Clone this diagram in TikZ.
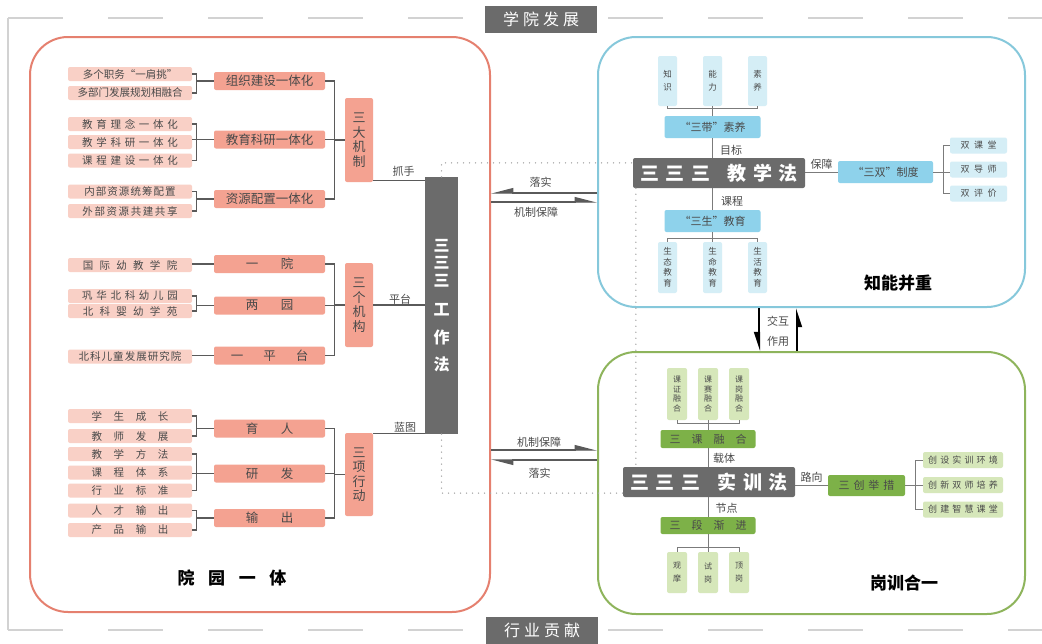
\documentclass[tikz,border=0pt]{standalone}
\usepackage{fontspec}
\setmainfont{Noto Sans CJK SC}
\usetikzlibrary{arrows.meta}
\definecolor{redline}{HTML}{E5806F}
\definecolor{redmid}{HTML}{F4A291}
\definecolor{redleaf}{HTML}{F9D0C6}
\definecolor{blueline}{HTML}{86C8DB}
\definecolor{bluemid}{HTML}{8ED2EB}
\definecolor{blueleaf}{HTML}{D5EEF6}
\definecolor{greenline}{HTML}{8EB45C}
\definecolor{greenmid}{HTML}{7DB148}
\definecolor{greenleaf}{HTML}{D6E7BA}
\definecolor{darkbox}{HTML}{6B6B6B}
\definecolor{wiregray}{HTML}{5A5A5A}
\definecolor{ink}{HTML}{4A4A4A}
\definecolor{framegray}{HTML}{D2D2D2}
\newcommand{\fsz}[1]{\fontsize{#1}{#1}\selectfont}
\newcommand{\spc}[2]{\def\spcgap{\hspace{#1em}}\spcloop#2\relax}
\def\spcloop#1#2{#1\ifx\relax#2\else\spcgap\expandafter\spcloop\expandafter#2\fi}

\begin{document}
\begin{tikzpicture}[x=1pt,y=-1pt,
    panel/.style={draw,line width=2pt,rounded corners=38pt,fill=white,inner sep=0pt},
    tag/.style={fill=darkbox,text=white,minimum width=112pt,minimum height=27pt,inner sep=0pt,font=\fsz{16}},
    rleaf/.style={fill=redleaf,rounded corners=2pt,minimum width=124pt,minimum height=14pt,inner sep=0pt,text=ink,font=\fsz{10.5}},
    rmid/.style={fill=redmid,rounded corners=2pt,minimum width=111pt,minimum height=18pt,inner sep=0pt,text=ink,font=\fsz{12.5}},
    rkey/.style={fill=redmid,rounded corners=2pt,minimum width=28pt,inner sep=0pt,align=center,text=ink,font=\fontsize{13}{14.5}\selectfont},
    bar/.style={fill=darkbox,minimum width=33pt,minimum height=257pt,inner sep=0pt,align=center,text=white,font=\fontsize{16}{17.5}\selectfont\bfseries},
    method/.style={fill=darkbox,rounded corners=2pt,minimum width=172pt,minimum height=30pt,inner sep=0pt,text=white,font=\fsz{19}\bfseries},
    bleaf/.style={fill=blueleaf,rounded corners=2pt,inner sep=0pt,align=center,text=ink},
    bmid/.style={fill=bluemid,rounded corners=2pt,minimum width=96pt,minimum height=22pt,inner sep=0pt,text=ink,font=\fsz{11}},
    gleaf/.style={fill=greenleaf,rounded corners=2pt,inner sep=0pt,align=center,text=ink},
    gmid/.style={fill=greenmid,rounded corners=2pt,minimum width=95pt,minimum height=18pt,inner sep=0pt,text=ink,font=\fsz{11}},
    wire/.style={draw=wiregray,line width=1.3pt},
    twig/.style={draw=wiregray!80,line width=0.9pt},
    lab/.style={inner sep=0pt,text=ink,font=\fsz{11}},
    title/.style={inner sep=0pt,text=black,font=\fsz{17}\bfseries},
    dotline/.style={draw=gray!70,line width=1.5pt,line cap=round,dash pattern=on 0pt off 6pt},
    harp/.style={draw=wiregray,line width=1.2pt,-{Triangle[harpoon,length=20pt,width=10pt]}},
    harpsw/.style={draw=wiregray,line width=1.2pt,-{Triangle[harpoon,swap,length=20pt,width=10pt]}},
    link/.style={draw=black,line width=2pt,-{Triangle[harpoon,swap,length=16pt,width=10pt]}}]
\useasboundingbox (0,0) rectangle (1042,643);

\draw[framegray,line width=2.5pt] (8,18) -- (8,630);
\draw[framegray,line width=2.5pt,dash pattern=on 55pt off 45pt] (8,18) -- (1042,18);
\draw[framegray,line width=2.5pt,dash pattern=on 55pt off 45pt] (8,630) -- (1042,630);

\node[panel,draw=redline,minimum width=460pt,minimum height=575pt] (pa) at (260,324.5) {};
\node[panel,draw=blueline,minimum width=427pt,minimum height=270pt] (pb) at (811.5,172) {};
\node[panel,draw=greenline,minimum width=427pt,minimum height=262pt] (pc) at (811.5,483) {};

\node[tag] (top) at (541,19) {\spc{0.25}{学院发展}};
\node[tag] (bot) at (542,630) {\spc{0.25}{行业贡献}};

\node[rleaf] (a1) at (130,74) {多个职务“一肩挑”};
\node[rleaf] (a2) at (130,93) {多部门发展规划相融合};
\node[rleaf] (a3) at (130,124) {\spc{0.35}{教育理念一体化}};
\node[rleaf] (a4) at (130,142) {\spc{0.35}{教学科研一体化}};
\node[rleaf] (a5) at (130,160.5) {\spc{0.35}{课程建设一体化}};
\node[rleaf] (a6) at (130,191.5) {\spc{0.1}{内部资源统筹配置}};
\node[rleaf] (a7) at (130,211) {\spc{0.15}{外部资源共建共享}};
\node[rleaf] (a8) at (130,265) {\spc{0.6}{国际幼教学院}};
\node[rleaf] (a9) at (130,296) {\spc{0.35}{巩华北科幼儿园}};
\node[rleaf] (a10) at (130,311) {\spc{0.6}{北科婴幼学苑}};
\node[rleaf] (a11) at (130,356.5) {\spc{0.1}{北科儿童发展研究院}};
\node[rleaf] (a12) at (130,416) {\spc{1.1}{学生成长}};
\node[rleaf] (a13) at (130,436) {\spc{1.1}{教师发展}};
\node[rleaf] (a14) at (130,454) {\spc{1.1}{教学方法}};
\node[rleaf] (a15) at (130,472.5) {\spc{1.1}{课程体系}};
\node[rleaf] (a16) at (130,490.5) {\spc{1.1}{行业标准}};
\node[rleaf] (a17) at (130,510.5) {\spc{1.1}{人才输出}};
\node[rleaf] (a18) at (130,530) {\spc{1.1}{产品输出}};

\node[rmid] (m1) at (269.5,81) {组织建设一体化};
\node[rmid] (m2) at (269.5,139.5) {教育科研一体化};
\node[rmid] (m3) at (269.5,199) {资源配置一体化};
\node[rmid] (m4) at (269.5,264) {\spc{1.8}{一院}};
\node[rmid] (m5) at (269.5,305.5) {\spc{1.8}{两园}};
\node[rmid] (m6) at (269.5,355.5) {\spc{1.6}{一平台}};
\node[rmid] (m7) at (269.5,428.5) {\spc{1.8}{育人}};
\node[rmid] (m8) at (269.5,473.5) {\spc{1.8}{研发}};
\node[rmid] (m9) at (269.5,518) {\spc{1.8}{输出}};

\node[rkey,minimum height=84pt] (k1) at (359,140) {三\\大\\机\\制};
\node[rkey,minimum height=84pt] (k2) at (359,305) {三\\个\\机\\构};
\node[rkey,minimum height=83pt] (k3) at (359,474.5) {三\\项\\行\\动};

\node[bar] (bar) at (441.5,305.5) {三\\三\\三\\[12pt]工\\[10pt]作\\[10pt]法};

\draw[wire] (m1.west) -- ++(-17,0) |- (a1.east);
\draw[wire] (m1.west) -- ++(-17,0) |- (a2.east);
\draw[wire] (m2.west) -- ++(-17,0) |- (a3.east);
\draw[wire] (m2.west) -- ++(-17,0) |- (a5.east);
\draw[wire] (m2.west) -- (m2.west -| a4.east);
\draw[wire] (m3.west) -- ++(-17,0) |- (a6.east);
\draw[wire] (m3.west) -- ++(-17,0) |- (a7.east);
\draw[wire] (m4.west) -- (m4.west -| a8.east);
\draw[wire] (m5.west) -- ++(-17,0) |- (a9.east);
\draw[wire] (m5.west) -- ++(-17,0) |- (a10.east);
\draw[wire] (m6.west) -- (m6.west -| a11.east);
\draw[wire] (m7.west) -- ++(-17,0) |- (a12.east);
\draw[wire] (m7.west) -- ++(-17,0) |- (a13.east);
\draw[wire] (m8.west) -- ++(-17,0) |- (a14.east);
\draw[wire] (m8.west) -- ++(-17,0) |- (a16.east);
\draw[wire] (m8.west) -- (m8.west -| a15.east);
\draw[wire] (m9.west) -- ++(-17,0) |- (a17.east);
\draw[wire] (m9.west) -- ++(-17,0) |- (a18.east);

\draw[wire] (k1.west) -- ++(-10,0) |- (m1.east);
\draw[wire] (k1.west) -- ++(-10,0) |- (m2.east);
\draw[wire] (k1.west) -- ++(-10,0) |- (m3.east);
\draw[wire] (k2.west) -- ++(-10,0) |- (m4.east);
\draw[wire] (k2.west) -- ++(-10,0) |- (m5.east);
\draw[wire] (k2.west) -- ++(-10,0) |- (m6.east);
\draw[wire] (k3.west) -- ++(-10,0) |- (m7.east);
\draw[wire] (k3.west) -- ++(-10,0) |- (m8.east);
\draw[wire] (k3.west) -- ++(-10,0) |- (m9.east);

\draw[wire] ([yshift=2pt]k1.south east) -- ([yshift=2pt]k1.south east -| bar.north west);
\draw[wire] (k2.east) -- (k2.east -| bar.west);
\draw[wire] ([yshift=-1pt]k3.north east) -- ([yshift=-1pt]k3.north east -| bar.south west);
\node[lab] (l1) at (403.5,171) {抓手};
\node[lab] (l2) at (400,299) {平台};
\node[lab] (l3) at (405,427) {蓝图};

\node[title] (ta) at (232,578) {\spc{0.8}{院园一体}};

\node[bleaf,minimum width=19pt,minimum height=50pt,font=\fontsize{8.5}{13}\selectfont] (z1) at (667.5,81) {知\\识};
\node[bleaf,minimum width=19pt,minimum height=50pt,font=\fontsize{8.5}{13}\selectfont] (z2) at (712.5,81) {能\\力};
\node[bleaf,minimum width=19pt,minimum height=50pt,font=\fontsize{8.5}{13}\selectfont] (z3) at (757.5,81) {素\\养};
\node[bmid] (sd) at (712.5,127) {“三带”素养};
\node[method] (jx) at (719,173) {\spc{0.35}{三三三}\hspace{0.9em}\spc{0.35}{教学法}};
\node[bmid,minimum width=95pt] (sz) at (885.5,172) {“三双”制度};
\node[bleaf,minimum width=57pt,minimum height=16pt,font=\fsz{9}] (s1) at (978.5,145.5) {\spc{0.5}{双课堂}};
\node[bleaf,minimum width=57pt,minimum height=16pt,font=\fsz{9}] (s2) at (978.5,169.5) {\spc{0.5}{双导师}};
\node[bleaf,minimum width=57pt,minimum height=16pt,font=\fsz{9}] (s3) at (978.5,193.5) {\spc{0.5}{双评价}};
\node[bmid] (ss) at (712.5,221) {“三生”教育};
\node[bleaf,minimum width=19pt,minimum height=51pt,font=\fontsize{8.5}{10.5}\selectfont] (e1) at (667.5,267.5) {生\\态\\教\\育};
\node[bleaf,minimum width=19pt,minimum height=51pt,font=\fontsize{8.5}{10.5}\selectfont] (e2) at (712.5,267.5) {生\\命\\教\\育};
\node[bleaf,minimum width=19pt,minimum height=51pt,font=\fontsize{8.5}{10.5}\selectfont] (e3) at (757.5,267.5) {生\\活\\教\\育};

\draw[twig] (sd.north) -- ++(0,-7) coordinate (t1);
\draw[twig] (t1 -| z1.south) -- (t1 -| z3.south);
\draw[twig] (t1 -| z1.south) -- (z1.south);
\draw[twig] (t1 -| z3.south) -- (z3.south);
\draw[twig] (t1) -- (z2.south);
\draw[twig] (sd.south) -- (sd.south |- jx.north);
\draw[twig] (ss.north) -- (ss.north |- jx.south);
\draw[twig] (ss.south) -- ++(0,6) coordinate (t2);
\draw[twig] (t2 -| e1.north) -- (t2 -| e3.north);
\draw[twig] (t2 -| e1.north) -- (e1.north);
\draw[twig] (t2 -| e3.north) -- (e3.north);
\draw[twig] (t2) -- (e2.north);
\draw[twig] (sz.west) -- (sz.west -| jx.east);
\draw[twig] (sz.east) -- ++(10,0) coordinate (t3);
\draw[twig] (s1.west) -| (t3) |- (s3.west);
\draw[twig] (t3) -- (t3 -| s2.west);
\node[lab] (l4) at (731,150) {目标};
\node[lab] (l5) at (821.5,164) {保障};
\node[lab] (l6) at (732,201) {课程};
\node[title] (tb) at (898,283) {知能并重};

\node[gleaf,minimum width=20pt,minimum height=52pt,font=\fontsize{8}{9.5}\selectfont] (r1) at (677,394) {课\\证\\融\\合};
\node[gleaf,minimum width=20pt,minimum height=52pt,font=\fontsize{8}{9.5}\selectfont] (r2) at (708,394) {课\\赛\\融\\合};
\node[gleaf,minimum width=20pt,minimum height=52pt,font=\fontsize{8}{9.5}\selectfont] (r3) at (739,394) {课\\岗\\融\\合};
\node[gmid] (sk) at (708,439) {\spc{1}{三课融合}};
\node[method] (sx) at (709,482) {\spc{0.35}{三三三}\hspace{0.9em}\spc{0.35}{实训法}};
\node[gmid,minimum width=77pt,minimum height=21pt] (sc) at (866.5,485.5) {\spc{0.35}{三创举措}};
\node[gleaf,minimum width=80pt,minimum height=16pt,font=\fsz{9}] (c1) at (963,460) {\spc{0.35}{创设实训环境}};
\node[gleaf,minimum width=80pt,minimum height=16pt,font=\fsz{9}] (c2) at (963,485) {\spc{0.35}{创新双师培养}};
\node[gleaf,minimum width=80pt,minimum height=16pt,font=\fsz{9}] (c3) at (963,509.5) {\spc{0.35}{创建智慧课堂}};
\node[gmid,minimum height=17pt] (sj) at (708,525.5) {\spc{1}{三段渐进}};
\node[gleaf,minimum width=20pt,minimum height=41pt,font=\fontsize{8}{13}\selectfont] (g1) at (677,572.5) {观\\摩};
\node[gleaf,minimum width=20pt,minimum height=41pt,font=\fontsize{8}{13}\selectfont] (g2) at (708,572.5) {试\\岗};
\node[gleaf,minimum width=20pt,minimum height=41pt,font=\fontsize{8}{13}\selectfont] (g3) at (739,572.5) {顶\\岗};

\draw[twig] (sk.north) -- ++(0,-6) coordinate (t4);
\draw[twig] (t4 -| r1.south) -- (t4 -| r3.south);
\draw[twig] (t4 -| r1.south) -- (r1.south);
\draw[twig] (t4 -| r3.south) -- (r3.south);
\draw[twig] (t4) -- (r2.south);
\draw[twig] (sk.south) -- (sk.south |- sx.north);
\draw[twig] (sj.north) -- (sj.north |- sx.south);
\draw[twig] (sj.south) -- ++(0,13) coordinate (t5);
\draw[twig] (t5 -| g1.north) -- (t5 -| g3.north);
\draw[twig] (t5 -| g1.north) -- (g1.north);
\draw[twig] (t5 -| g3.north) -- (g3.north);
\draw[twig] (t5) -- (g2.north);
\draw[twig] (sc.west) -- (sc.west -| sx.east);
\draw[twig] (sc.east) -- ++(10,0) coordinate (t6);
\draw[twig] (c1.west) -| (t6) |- (c3.west);
\draw[twig] (t6) -- (t6 -| c2.west);
\node[lab] (l7) at (724,458) {载体};
\node[lab] (l8) at (811.5,477) {路向};
\node[lab] (l9) at (726.5,508) {节点};
\node[title] (tc) at (904,583) {岗训合一};

\draw[dotline] (bar.north) -- ++(0,-14) coordinate (d1) -- (d1 -| jx.west);
\draw[dotline] ([xshift=3pt]jx.south west) -- ([xshift=3pt]jx.south west |- sx.north);
\draw[dotline] (bar.south) -- ++(0,59) coordinate (d2) -- (d2 -| sx.west);

\coordinate (u1) at (0,193);
\coordinate (u2) at (0,202);
\coordinate (u3) at (0,450);
\coordinate (u4) at (0,460);
\draw[harpsw] (pb.west |- u1) -- (pa.east |- u1);
\draw[harp] (pa.east |- u2) -- (pb.west |- u2);
\draw[harp] (pa.east |- u3) -- (pc.west |- u3);
\draw[harp] (pc.west |- u4) -- (pa.east |- u4);
\node[lab] (l10) at (540.5,182) {落实};
\node[lab] (l11) at (536,212) {机制保障};
\node[lab] (l12) at (539,442) {机制保障};
\node[lab] (l13) at (539.5,473) {落实};

\coordinate (v1) at (759,0);
\coordinate (v2) at (797,0);
\draw[link] (pb.south -| v1) -- (pc.north -| v1);
\draw[link] (pc.north -| v2) -- (pb.south -| v2);
\node[lab] (l14) at (778,321) {交互};
\node[lab] (l15) at (778,341) {作用};
\end{tikzpicture}
\end{document}
